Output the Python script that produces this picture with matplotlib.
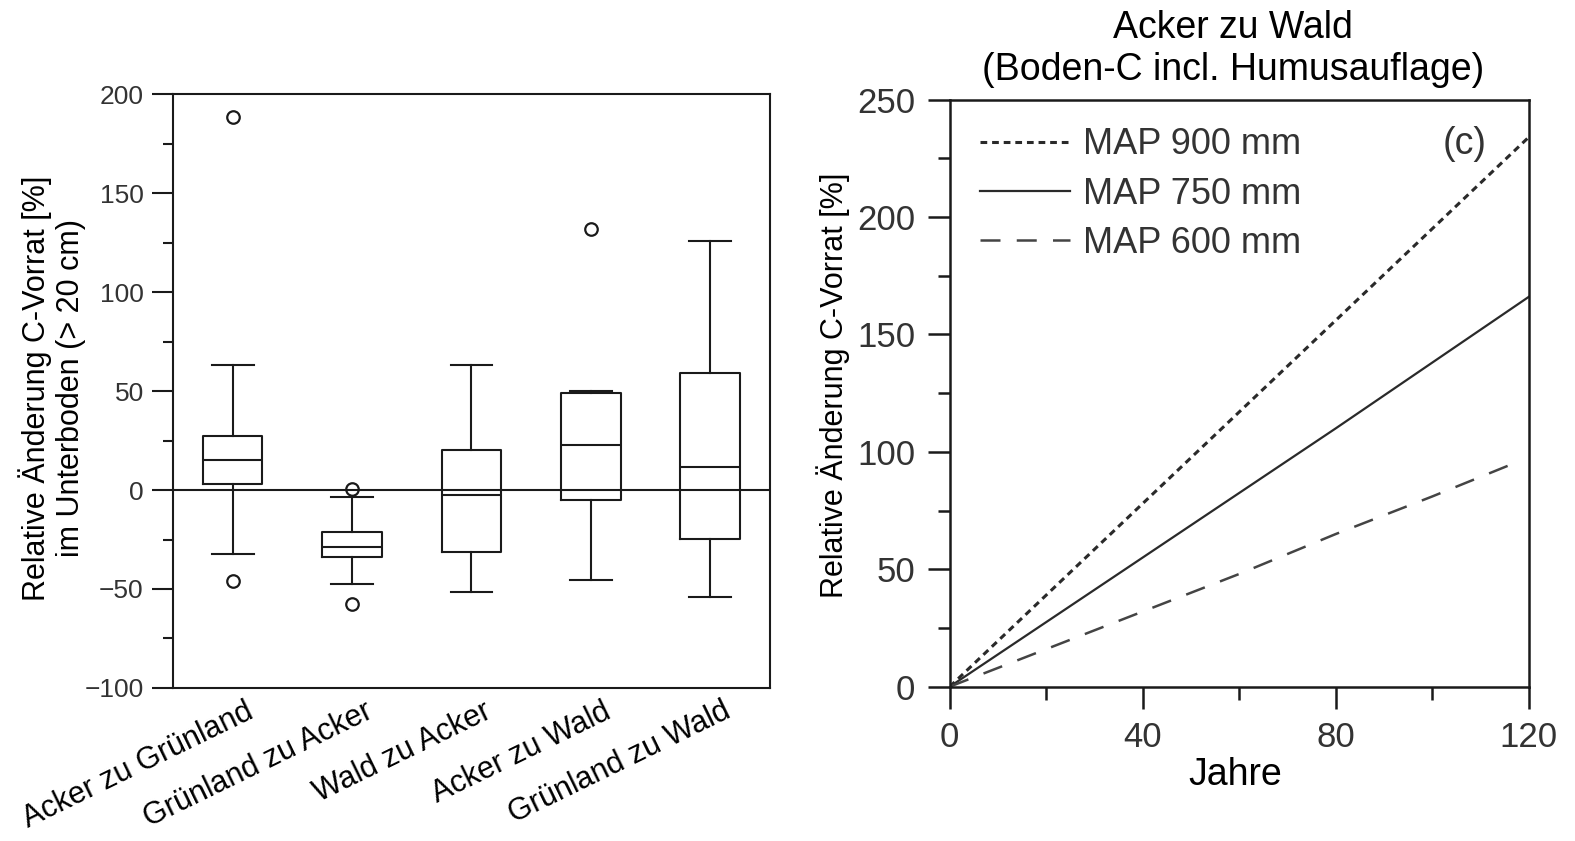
import matplotlib
matplotlib.use('Agg')
import matplotlib.pyplot as plt
from matplotlib.ticker import MultipleLocator

plt.rcParams['font.family'] = ['Liberation Sans', 'DejaVu Sans']

# left panel: box plot statistics
categories = ['Acker zu Grünland', 'Grünland zu Acker', 'Wald zu Acker',
              'Acker zu Wald', 'Grünland zu Wald']
whislo = [-32.5, -47.7, -51.4, -45.3, -53.8]
q1 = [2.8, -33.9, -31.3, -5.0, -24.9]
med = [15.2, -28.7, -2.4, 22.5, 11.4]
q3 = [27.5, -21.3, 20.1, 49.0, 59.0]
whishi = [63.0, -3.6, 63.0, 50.0, 125.6]
fliers = [[188.6, -45.9], [0.4, -57.8], [], [131.8], []]

# right panel: modelled change over time
years = [0, 20, 40, 60, 80, 100, 120]
map900 = [0, 39, 78, 117, 156, 195, 234]
map750 = [0, 27.5, 55, 82.5, 110, 138, 166]
years600 = [0, 20, 40, 60, 80, 100, 118]
map600 = [0, 16, 32, 48, 65, 81, 96]

ink = '#1a1a1a'
tickc = '#333333'

fig = plt.figure(figsize=(15.75, 8.41), dpi=100)
ax1 = fig.add_axes([0.1098, 0.182, 0.379, 0.706])
ax2 = fig.add_axes([0.603, 0.1835, 0.3676, 0.698])

# ---- left: boxplots
stats = []
for i in range(len(categories)):
    stats.append(dict(label=categories[i], whislo=whislo[i], q1=q1[i], med=med[i],
                      q3=q3[i], whishi=whishi[i], fliers=fliers[i]))

positions = [1, 2, 3, 4, 5]
lp = dict(color=ink, lw=1.5)
ax1.bxp(stats, positions=positions, widths=0.5, capwidths=0.35,
        boxprops=lp, whiskerprops=lp, capprops=lp, medianprops=lp,
        flierprops=dict(marker='o', mfc='none', mec=ink, ms=9, mew=1.6))
ax1.axhline(0, color=ink, lw=1.5, zorder=1)
ax1.set_xlim(0.5, 5.5)
ax1.set_ylim(-100, 200)
ax1.yaxis.set_major_locator(MultipleLocator(50))
ax1.yaxis.set_minor_locator(MultipleLocator(25))
# labels hang off slightly right of each box (ticks themselves are hidden)
ax1.set_xticks([p + 0.1 for p in positions])
ax1.set_xticklabels(categories, rotation=26, ha='right', va='top',
                    rotation_mode='anchor', fontsize=22)
ax1.tick_params(axis='x', length=0, pad=6)
ax1.tick_params(axis='y', which='major', length=15, width=1.5, pad=6,
                labelsize=19, labelcolor=tickc, color=ink)
ax1.tick_params(axis='y', which='minor', length=7, width=1.5, color=ink)
for s in ax1.spines.values():
    s.set_linewidth(1.5)
    s.set_color(ink)

fig.text(52 / 1575, 0.5387,
         'Relative Änderung C-Vorrat [%]\nim Unterboden (> 20 cm)',
         rotation=90, ha='center', va='center', fontsize=22, linespacing=1.2)

# ---- right: lines
ax2.plot(years, map900, color='#2a2a2a', lw=2.2, dashes=(2.2, 1.6), label='MAP 900 mm')
ax2.plot(years, map750, color='#2a2a2a', lw=1.6, label='MAP 750 mm')
ax2.plot(years600, map600, color='#444444', lw=1.8, dashes=(8, 6.5), label='MAP 600 mm')
ax2.set_xlim(0, 120)
ax2.set_ylim(0, 250)
ax2.xaxis.set_major_locator(MultipleLocator(40))
ax2.xaxis.set_minor_locator(MultipleLocator(20))
ax2.yaxis.set_major_locator(MultipleLocator(50))
ax2.yaxis.set_minor_locator(MultipleLocator(25))
ax2.tick_params(which='major', length=16, width=1.8, pad=9,
                labelsize=25, labelcolor=tickc, color=ink)
ax2.tick_params(which='minor', length=9, width=1.8, color=ink)
for s in ax2.spines.values():
    s.set_linewidth(1.8)
    s.set_color(ink)

ax2.legend(loc='upper left', bbox_to_anchor=(0.052, 0.953), frameon=False,
           fontsize=26, handlelength=2.5, handletextpad=0.35, labelspacing=0.4,
           borderpad=0, borderaxespad=0, labelcolor=tickc)
ax2.text(0.89, 0.925, '(c)', transform=ax2.transAxes, ha='center', va='center',
         fontsize=27, color=tickc)

fig.text(1233 / 1575, 0.942, 'Acker zu Wald\n(Boden-C incl. Humusauflage)',
         ha='center', va='center', fontsize=27, linespacing=1.2)
fig.text(833 / 1575, 0.542, 'Relative Änderung C-Vorrat [%]',
         rotation=90, ha='center', va='center', fontsize=22)
fig.text(1235 / 1575, 0.078, 'Jahre', ha='center', va='center', fontsize=27)

fig.savefig('out.png', dpi=100)
